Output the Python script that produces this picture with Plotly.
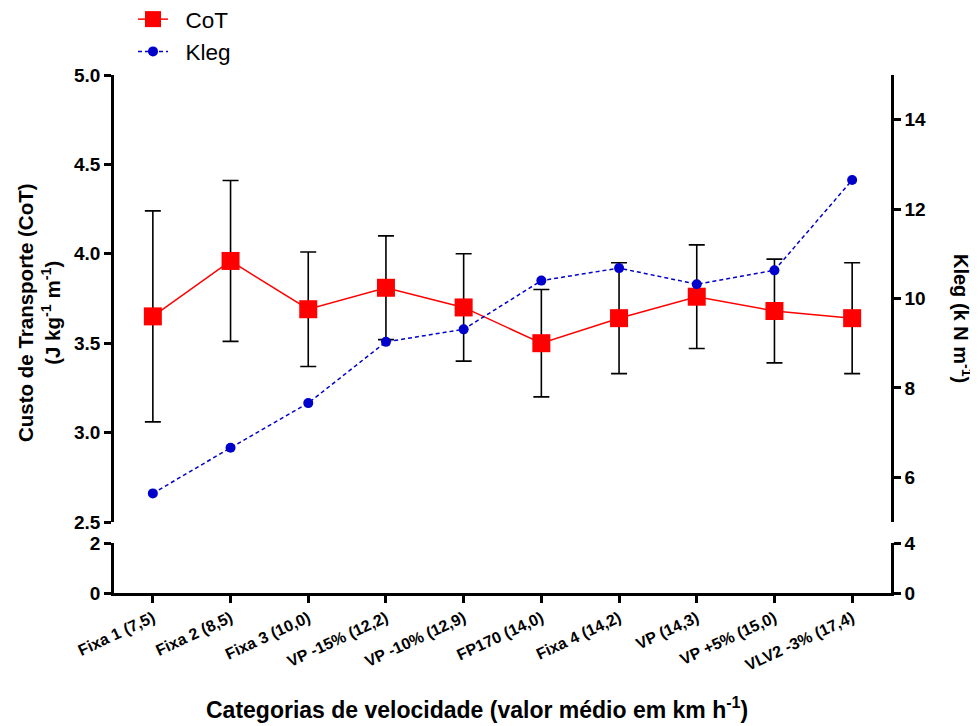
import plotly.graph_objects as go

categories = ["Fixa 1 (7,5)", "Fixa 2 (8,5)", "Fixa 3 (10,0)", "VP -15% (12,2)", "VP -10% (12,9)",
              "FP170 (14,0)", "Fixa 4 (14,2)", "VP (14,3)", "VP +5% (15,0)", "VLV2 -3% (17,4)"]
cot_mean = [3.65, 3.96, 3.69, 3.81, 3.70, 3.50, 3.64, 3.76, 3.68, 3.64]
cot_sd = [0.59, 0.45, 0.32, 0.29, 0.30, 0.30, 0.31, 0.29, 0.29, 0.31]
kleg = [5.64, 6.66, 7.66, 9.03, 9.31, 10.40, 10.68, 10.32, 10.63, 12.65]

left_top_ticks = [2.5, 3.0, 3.5, 4.0, 4.5, 5.0]
left_bot_ticks = [0, 2]
right_top_ticks = [6, 8, 10, 12, 14]
right_bot_ticks = [0, 4]

FONT = "Liberation Sans, Arial, sans-serif"
OFF = 8  # page body margin
W, H = 978 - OFF, 726 - OFF
X0, X1, Y0, Y1 = 114, 891, 75, 593  # plot area in page pixels
ML, MT = X0 - OFF, Y0 - OFF
MR, MB = W - (X1 - OFF), H - (Y1 - OFF)
PH = Y1 - Y0
PW = X1 - X0
top_dom = [(Y1 - 522) / PH, 1.0]
bot_dom = [0.0, (Y1 - 543) / PH]

def px(x):
    return (x - X0) / PW

def py(y):
    return (Y1 - y) / PH

NB = "\u00a0\u00a0"

fig = go.Figure()

fig.add_trace(go.Scatter(
    x=categories, y=cot_mean, name=NB + "CoT", xaxis="x", yaxis="y",
    mode="lines+markers",
    line=dict(color="#FF0000", width=1.5),
    marker=dict(symbol="square", size=18, color="#FF0000"),
    error_y=dict(type="data", array=cot_sd, visible=True, color="black", thickness=1.6, width=8),
    legendgroup="a",
))
fig.add_trace(go.Scatter(
    x=categories, y=kleg, name=NB + "Kleg", xaxis="x", yaxis="y2",
    mode="lines+markers",
    line=dict(color="#0000CC", width=1.5, dash="4px,3px"),
    marker=dict(symbol="circle", size=10, color="#0000CC"),
    legendgroup="b",
))
fig.add_trace(go.Scatter(x=[], y=[], xaxis="x", yaxis="y3", showlegend=False, hoverinfo="skip"))
fig.add_trace(go.Scatter(x=[], y=[], xaxis="x", yaxis="y4", showlegend=False, hoverinfo="skip"))

tickfont = dict(family=FONT, size=19, color="black", weight="bold")
axis_common = dict(showline=True, linecolor="black", linewidth=2.5, ticks="outside",
                   ticklen=7, tickwidth=2.5, tickcolor="black", showgrid=False, zeroline=False,
                   tickfont=tickfont, automargin=False)
xaxis_common = {**axis_common, "tickfont": dict(family=FONT, size=16, color="black", weight="bold")}

fig.update_layout(
    width=W, height=H,
    margin=dict(l=ML, r=MR, t=MT, b=MB, autoexpand=False),
    paper_bgcolor="white", plot_bgcolor="white",
    font=dict(family=FONT, color="black"),
    xaxis=dict(domain=[0, 1], anchor="y3", type="category", range=[-0.5, 9.5],
               tickangle=-25, **xaxis_common),
    yaxis=dict(domain=top_dom, anchor="x", range=[2.5, 5.0], tickvals=left_top_ticks,
               tickformat=".1f", **axis_common),
    yaxis3=dict(domain=bot_dom, anchor="x", range=[0, 2], tickvals=left_bot_ticks, **axis_common),
    yaxis2=dict(overlaying="y", side="right", anchor="x", range=[5, 15], tickvals=right_top_ticks,
                **axis_common),
    yaxis4=dict(overlaying="y3", side="right", anchor="x", range=[0, 4], tickvals=right_bot_ticks,
                **axis_common),
    legend=dict(x=px(133), y=py(-2), xanchor="left", yanchor="top", traceorder="grouped",
                tracegroupgap=0, font=dict(family=FONT, size=22.5, color="black"),
                bgcolor="rgba(0,0,0,0)"),
    showlegend=True,
)

bold = lambda s: "<b>" + s + "</b>"
fig.add_annotation(
    text=bold("Custo de Transporte (CoT)") + "<br>" + bold("(J kg<sup>-1</sup> m<sup>-1</sup>)"),
    xref="paper", yref="paper", x=px(39), y=py(313),
    textangle=-90, showarrow=False, font=dict(family=FONT, size=20.5, color="black"),
    xanchor="center", yanchor="middle",
)
fig.add_annotation(
    text=bold("Kleg (k N m<sup>-1</sup>)"),
    xref="paper", yref="paper", x=px(963), y=py(318),
    textangle=90, showarrow=False, font=dict(family=FONT, size=20, color="black"),
    xanchor="center", yanchor="middle",
)
fig.add_annotation(
    text=bold("Categorias de velocidade (valor médio em km h<sup>-1</sup>)"),
    xref="paper", yref="paper", x=px(477), y=py(708),
    showarrow=False, font=dict(family=FONT, size=23, color="black"),
    xanchor="center", yanchor="middle",
)

fig.write_html("out.html")
